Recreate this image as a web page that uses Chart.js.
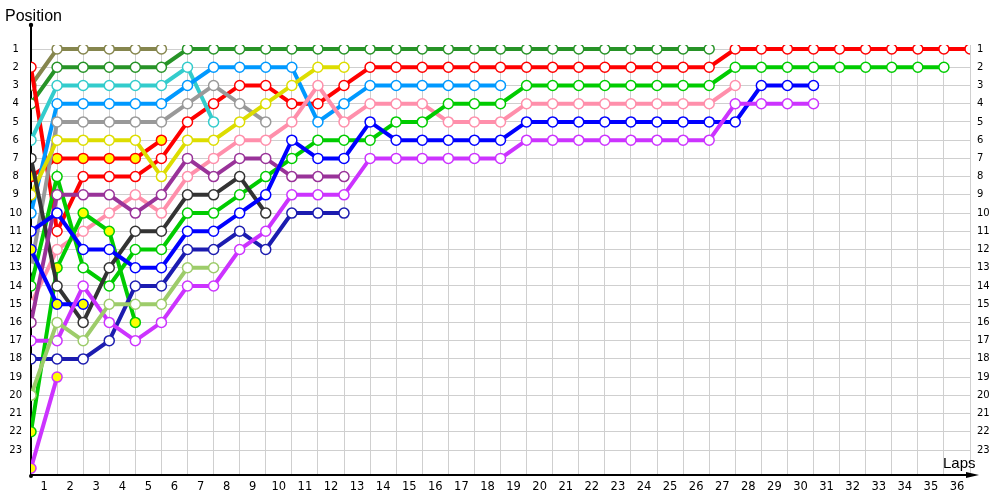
<!DOCTYPE html>
<html><head><meta charset="utf-8">
<script src="https://cdn.jsdelivr.net/npm/chart.js@4.4.1/dist/chart.umd.min.js"></script>
<style>html,body{margin:0;padding:0;background:#fff}#wrap{width:1000px;height:500px;position:relative}</style>
</head><body><div id="wrap"><canvas id="c"></canvas></div>
<script>
// Lap 0 = starting grid position
const lapLabels = ['1','2','3','4','5','6','7','8','9','10','11','12','13','14','15','16','17','18','19','20','21','22','23','24','25','26','27','28','29','30','31','32','33','34','35','36'];
const positionTicks = [1,2,3,4,5,6,7,8,9,10,11,12,13,14,15,16,17,18,19,20,21,22,23];

const olive      = [3,1,1,1,1,1];
const darkGreen  = [4,2,2,2,2,2,1,1,1,1,1,1,1,1,1,1,1,1,1,1,1,1,1,1,1,1,1];
const redA       = [2,11,8,8,8,7,5,4,3,3,4,4,3,2,2,2,2,2,2,2,2,2,2,2,2,2,2,1,1,1,1,1,1,1,1,1,1];
const redB       = [8,7,7,7,7,6];
const cyan       = [6,3,3,3,3,3,2,5];
const lightBlue  = [10,4,4,4,4,4,3,2,2,2,2,5,4,3,3,3,3,3,3];
const gray       = [13,5,5,5,5,5,4,3,4,5];
const yellow     = [9,6,6,6,6,8,6,6,5,4,3,2,2];
const pink       = [15,12,11,10,9,10,8,7,6,6,5,3,5,4,4,4,5,5,5,4,4,4,4,4,4,4,4,3];
const greenA     = [14,8,13,14,12,12,10,10,9,8,7,6,6,6,5,5,4,4,4,3,3,3,3,3,3,3,3,2,2,2,2,2,2,2,2,2];
const greenB     = [22,13,10,11,16];
const darkGray   = [7,14,16,13,11,11,9,9,8,10];
const purple     = [16,9,9,9,10,9,7,8,7,7,8,8,8];
const blueA      = [11,10,12,12,13,13,11,11,10,9,6,7,7,5,6,6,6,6,6,5,5,5,5,5,5,5,5,5,3,3,3];
const blueB      = [12,15,15];
const navy       = [18,18,18,17,14,14,12,12,11,12,10,10,10];
const magentaA   = [17,17,14,16,17,16,14,14,12,11,9,9,9,7,7,7,7,7,7,6,6,6,6,6,6,6,6,4,4,4,4];
const magentaB   = [24,19];
const lightGreen = [20,16,17,15,15,15,13,13];

const seriesDefs = [
  [lightGreen,'#9dcc6a',false],
  [magentaB,'#cc33ff',true],
  [magentaA,'#cc33ff',false],
  [navy,'#1c1cb0',false],
  [blueB,'#0000ff',true],
  [blueA,'#0000ff',false],
  [purple,'#993399',false],
  [darkGray,'#333333',false],
  [greenB,'#00cc00',true],
  [greenA,'#00cc00',false],
  [pink,'#ff8fab',false],
  [yellow,'#dddd00',false],
  [gray,'#999999',false],
  [lightBlue,'#0099ff',false],
  [cyan,'#33cccc',false],
  [redB,'#ff0000',true],
  [redA,'#ff0000',false],
  [darkGreen,'#279327',false],
  [olive,'#86864e',false]
];

const datasets = seriesDefs.map(([vals,col,filled]) => ({
  data: vals.map((v,i)=>({x:i,y:v})),
  borderColor: col,
  backgroundColor: col,
  borderWidth: 4,
  pointRadius: 5,
  pointBorderWidth: 1.5,
  pointBorderColor: col,
  pointBackgroundColor: filled ? '#ffff00' : '#ffffff',
  tension: 0,
  xAxisID: 'x',
  yAxisID: 'y'
}));

const axisPlugin = {
  id:'axisDeco',
  beforeDatasetsDraw(chart){
    const {ctx, chartArea:a} = chart;
    ctx.save();
    ctx.strokeStyle='#000'; ctx.fillStyle='#000'; ctx.lineWidth=2;
    ctx.beginPath(); ctx.moveTo(a.left, 25); ctx.lineTo(a.left, a.bottom); ctx.stroke();
    ctx.beginPath(); ctx.moveTo(a.left, a.bottom); ctx.lineTo(a.right+4, a.bottom); ctx.stroke();
    ctx.beginPath(); ctx.arc(a.left, 25, 2.2, 0, Math.PI*2); ctx.fill();
    ctx.beginPath(); ctx.arc(a.left, a.bottom+1, 2, 0, Math.PI*2); ctx.fill();
    ctx.beginPath(); ctx.moveTo(a.right+9, a.bottom); ctx.lineTo(a.right-4, a.bottom-3); ctx.lineTo(a.right-4, a.bottom+3); ctx.closePath(); ctx.fill();
    ctx.restore();
  },
  afterDraw(chart){
    const {ctx, chartArea:a} = chart;
    ctx.save();
    ctx.fillStyle='#000';
    ctx.textBaseline='alphabetic'; ctx.textAlign='left';
    ctx.font='16px "Liberation Sans", Arial, sans-serif';
    ctx.fillText('Position', 5, 21);
    ctx.font='15px "Liberation Sans", Arial, sans-serif';
    ctx.fillText('Laps', a.right-27, a.bottom-7);
    ctx.restore();
  }
};

const yTicks = (scale)=>{ scale.ticks = positionTicks.map(v=>({value:v})); };
const tickFont = {family:'"DejaVu Sans", Verdana, sans-serif', size:10};

new Chart(document.getElementById('c'), {
  type:'line',
  data:{datasets},
  plugins:[axisPlugin],
  options:{
    responsive:true, maintainAspectRatio:false, animation:false,
    events:[],
    layout:{padding:{top:45,left:0,right:0,bottom:0}},
    plugins:{legend:{display:false}, tooltip:{enabled:false}},
    scales:{
      x:{type:'linear', min:0, max:36, position:'bottom',
         ticks:{display:false, stepSize:1},
         grid:{color:'#cfcfcf', lineWidth:1, drawTicks:false},
         border:{display:false},
         afterFit(s){ s.height = 0; }},
      x2:{type:'linear', min:0, max:36, position:'bottom',
         afterBuildTicks(s){ s.ticks = lapLabels.map((l,i)=>({value:i+0.5})); },
         ticks:{callback:(v,i)=>lapLabels[i], color:'#000', padding:5, maxRotation:0, autoSkip:false,
                font:{family:'"DejaVu Sans", Verdana, sans-serif', size:11.5}},
         grid:{display:false, drawTicks:false},
         border:{display:false},
         afterFit(s){ s.height = 25; }},
      y:{type:'linear', reverse:true, min:0.78, max:24.37, position:'left',
         afterBuildTicks:yTicks,
         ticks:{color:'#000', padding:9, crossAlign:'center', font:tickFont},
         grid:{color:'#cfcfcf', lineWidth:1, drawTicks:false},
         border:{display:false},
         afterFit(s){ s.width = 31; }},
      y2:{type:'linear', reverse:true, min:0.78, max:24.37, position:'right',
         afterBuildTicks:yTicks,
         ticks:{color:'#000', padding:7, crossAlign:'near', font:tickFont},
         grid:{display:false, drawTicks:false},
         border:{display:false},
         afterFit(s){ s.width = 30; }}
    }
  }
});
</script>
</body></html>
